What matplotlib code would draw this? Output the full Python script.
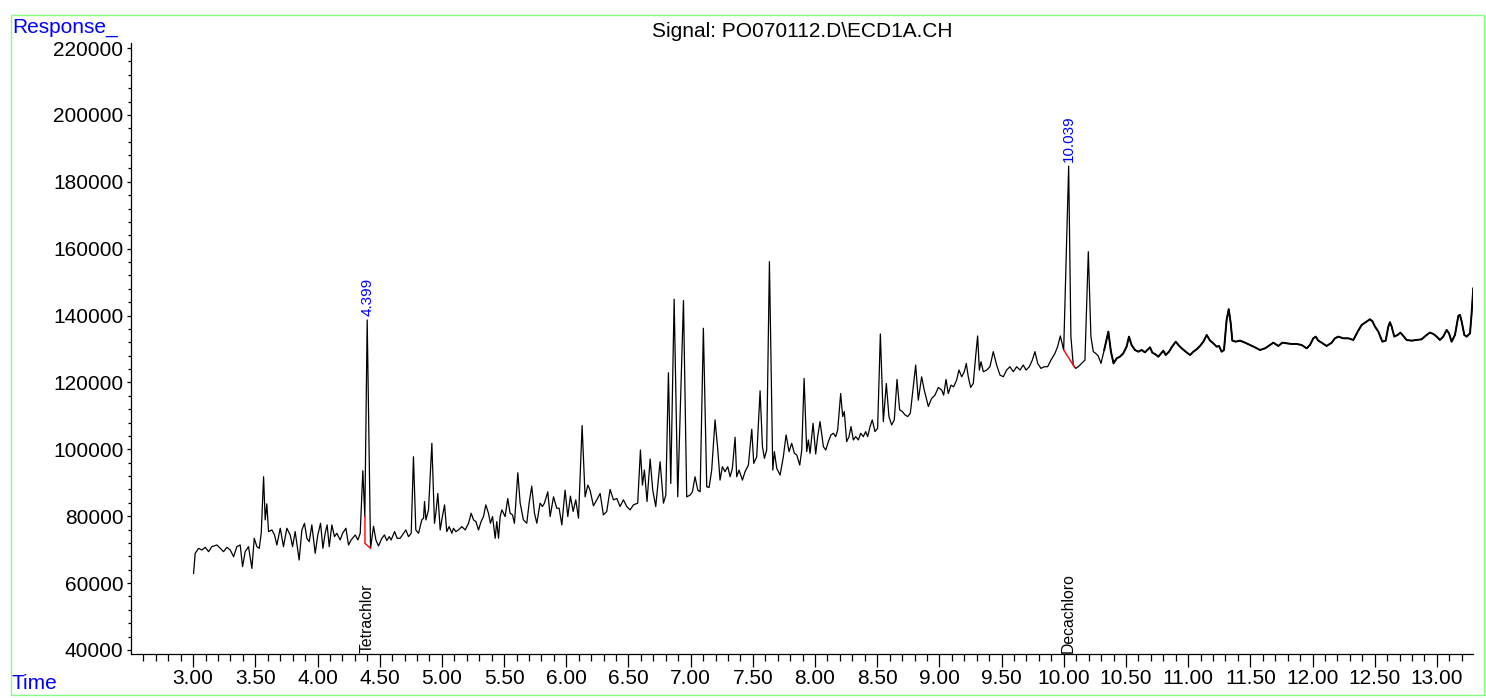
import matplotlib
matplotlib.use('Agg')
import matplotlib.pyplot as plt
from matplotlib.patches import Rectangle
from matplotlib.ticker import FixedLocator
import matplotlib.transforms as mtransforms

plt.rcParams['font.family'] = ['Liberation Sans', 'DejaVu Sans']

# ---------------- data ----------------
time_min = [
    3.003, 3.016, 3.043, 3.070, 3.097, 3.124, 3.150, 3.191, 3.217, 3.244,
    3.271, 3.298, 3.325, 3.351, 3.378, 3.397, 3.418, 3.445, 3.472, 3.491,
    3.512, 3.531, 3.547, 3.566, 3.579, 3.592, 3.606, 3.633, 3.654, 3.673,
    3.700, 3.726, 3.753, 3.780, 3.799, 3.820, 3.852, 3.874, 3.895, 3.914,
    3.933, 3.954, 3.981, 4.002, 4.024, 4.043, 4.061, 4.077, 4.094, 4.115,
    4.136, 4.155, 4.182, 4.201, 4.228, 4.249, 4.270, 4.303, 4.324, 4.343,
    4.364, 4.380, 4.399, 4.426, 4.450, 4.469, 4.490, 4.517, 4.538, 4.557,
    4.576, 4.592, 4.619, 4.640, 4.664, 4.691, 4.710, 4.731, 4.753, 4.771,
    4.790, 4.812, 4.838, 4.852, 4.860, 4.871, 4.892, 4.919, 4.940, 4.951,
    4.967, 4.986, 4.999, 5.021, 5.039, 5.058, 5.080, 5.093, 5.112, 5.133,
    5.160, 5.187, 5.214, 5.235, 5.254, 5.273, 5.294, 5.315, 5.334, 5.353,
    5.374, 5.390, 5.407, 5.428, 5.441, 5.455, 5.468, 5.482,
    5.508, 5.529, 5.548, 5.567, 5.583, 5.610, 5.629, 5.655, 5.682, 5.701,
    5.722, 5.744, 5.763, 5.789, 5.808, 5.824, 5.851, 5.870, 5.897, 5.923,
    5.942, 5.964, 5.990, 6.012, 6.033, 6.055, 6.076, 6.098, 6.127, 6.151,
    6.173, 6.191, 6.218, 6.245, 6.272, 6.298, 6.325, 6.352, 6.379, 6.406,
    6.432, 6.459, 6.486, 6.513, 6.540, 6.574, 6.596, 6.612, 6.628, 6.649,
    6.674, 6.695, 6.719, 6.754, 6.781, 6.800, 6.821, 6.840, 6.867, 6.896,
    6.942, 6.968, 6.995, 7.014, 7.035, 7.057, 7.076, 7.102, 7.129, 7.148,
    7.169, 7.196, 7.218, 7.236, 7.255, 7.276, 7.298, 7.317, 7.335, 7.357,
    7.370, 7.389, 7.416, 7.437, 7.464, 7.491, 7.507, 7.531, 7.558, 7.577,
    7.593, 7.611, 7.633, 7.660, 7.673, 7.692, 7.719, 7.745, 7.767, 7.791,
    7.812, 7.834, 7.853, 7.877, 7.893, 7.912, 7.933, 7.946, 7.960, 7.984,
    8.005, 8.021, 8.040, 8.067, 8.086,
    8.107, 8.128, 8.147, 8.166, 8.182, 8.206, 8.222, 8.235, 8.254, 8.273,
    8.289, 8.308, 8.327, 8.348, 8.367, 8.388, 8.407, 8.423, 8.442, 8.460,
    8.482, 8.503, 8.525, 8.549, 8.573, 8.594, 8.616, 8.637, 8.659, 8.680,
    8.702, 8.723, 8.745, 8.766, 8.787, 8.809, 8.830, 8.857, 8.878, 8.911,
    8.937, 8.964, 8.991, 9.018, 9.034, 9.053, 9.071, 9.093, 9.114, 9.138,
    9.157, 9.179, 9.200, 9.216, 9.232, 9.251, 9.272, 9.291, 9.307, 9.321,
    9.334, 9.353, 9.380, 9.406, 9.433, 9.460, 9.487, 9.514, 9.540, 9.567,
    9.594, 9.621, 9.648, 9.674, 9.696, 9.723, 9.747, 9.768, 9.790, 9.816,
    9.843, 9.870, 9.897, 9.929, 9.950, 9.972, 9.999, 10.039, 10.057, 10.076,
    10.095, 10.116, 10.143, 10.170, 10.197, 10.218, 10.237, 10.256, 10.277, 10.299,
    10.325, 10.358, 10.379, 10.400, 10.425, 10.451, 10.478, 10.505, 10.524, 10.545,
    10.572, 10.599, 10.626, 10.652, 10.685,
    10.693, 10.712, 10.733, 10.760, 10.787, 10.800, 10.819, 10.846, 10.867, 10.900,
    10.921, 10.948, 10.980, 11.015, 11.042, 11.068, 11.095, 11.122, 11.149, 11.176,
    11.202, 11.229, 11.248, 11.269, 11.288, 11.309, 11.326, 11.342, 11.355, 11.382,
    11.417, 11.457, 11.497, 11.537, 11.577, 11.618, 11.658, 11.685, 11.725, 11.757,
    11.792, 11.832, 11.872, 11.912, 11.953, 11.979, 12.006, 12.025, 12.046, 12.073,
    12.113, 12.154, 12.180, 12.207, 12.247, 12.288, 12.328, 12.363, 12.395, 12.435,
    12.462, 12.483, 12.502, 12.529, 12.561, 12.588, 12.609, 12.622, 12.636, 12.657,
    12.684, 12.706, 12.730, 12.756, 12.797, 12.837, 12.877, 12.917, 12.944, 12.971,
    12.998, 13.024, 13.051, 13.078, 13.097, 13.118, 13.145, 13.172, 13.185, 13.199,
    13.220, 13.239, 13.266, 13.279, 13.292,
]

response = [
    62900, 68900, 70400, 69900, 70700, 69400, 70900, 71400, 70400, 69400,
    70700, 69900, 67900, 70900, 71400, 64900, 69400, 70900, 64400, 73400,
    70900, 70400, 74900, 91800, 78900, 83700, 75400, 75900, 74400, 71400,
    76400, 70900, 76400, 74400, 70900, 75400, 66900, 75900, 77900, 73400,
    72400, 77400, 68900, 74400, 77900, 70400, 74900, 77400, 70900, 77400,
    73900, 74900, 72900, 74900, 76400, 71400, 72900, 74400, 72900, 74900,
    93600, 79900, 138700, 70400, 77000, 72900, 71100, 73400, 74400, 72700,
    73900, 72900, 75400, 73400, 73400, 74900, 75900, 73900, 74900, 97800,
    75900, 74900, 78900, 79400, 84400, 78900, 81900, 101800, 77900, 80900,
    86800, 75900, 78900, 83400, 75400, 76900, 74900, 76400, 75400, 75900,
    76900, 75900, 77900, 80900, 78900, 78400, 75900, 78400, 79900, 83400,
    80900, 77900, 79900, 73400, 78400, 73400, 79900, 81900,
    79900, 85300, 80900, 80400, 77900, 93000, 83900, 78900, 77900, 83900,
    89000, 80900, 77900, 83900, 82900, 83900, 87300, 79900, 85800, 82400,
    82400, 77400, 87800, 79900, 86000, 81400, 84900, 79400, 107100, 85800,
    89300, 87800, 83100, 84900, 86800, 80400, 81400, 88000, 84900, 85300,
    82900, 84900, 82900, 81900, 83400, 83900, 99800, 89300, 93800, 84400,
    97100, 87800, 82900, 96300, 83900, 86300, 122900, 89800, 144900, 85800,
    144500, 85800, 86300, 87300, 91800, 87800, 87300, 136200, 88800, 88600,
    93800, 108800, 99800, 90800, 94800, 93300, 94800, 91800, 94300, 103600,
    91800, 93800, 90800, 93300, 95300, 106000, 95800, 97800, 117500, 100800,
    97300, 99800, 156100, 93800, 99300, 94300, 92300, 97800, 104300, 99300,
    101800, 98800, 98300, 95300, 99800, 121200, 99300, 102800, 98800, 107800,
    98600, 103800, 108300, 100800, 99800,
    102300, 104300, 104800, 103800, 105800, 116700, 109800, 111300, 102300, 103800,
    106800, 102800, 103800, 102800, 104800, 103800, 105300, 103800, 106800, 108800,
    105300, 106300, 134500, 108300, 119700, 109800, 107300, 108800, 120900, 111800,
    111300, 110300, 109800, 110800, 117700, 125200, 114700, 121700, 117700, 112800,
    115200, 116200, 118500, 117700, 116200, 120900, 116700, 119200, 118700, 120700,
    123700, 121700, 123200, 125700, 121700, 118500, 119700, 127700, 133900, 123700,
    126200, 123200, 123700, 124700, 129200, 125200, 122200, 121700, 123700, 124700,
    123200, 124700, 123700, 125200, 123700, 124700, 126700, 129200, 125700, 124200,
    124700, 124700, 126700, 128700, 130700, 133900, 129700, 184700, 133700, 125200,
    124200, 124700, 125700, 126700, 159100, 133700, 129200, 128700, 127900, 125700,
    129700, 135200, 129200, 125700, 127200, 127700, 128700, 130700, 133700, 131200,
    129700, 129200, 129700, 129000, 130200,
    130500, 128900, 128500, 127700, 128900, 129500, 128200, 129200, 130500, 132200,
    131200, 130200, 129200, 128200, 129200, 129900, 130900, 132200, 134200, 132500,
    131700, 130700, 130900, 129200, 129700, 138700, 141900, 137700, 132500, 132200,
    132500, 131900, 131200, 130500, 129700, 130200, 131200, 131900, 130900, 131900,
    131700, 131500, 131500, 131200, 130200, 131200, 133200, 133700, 132500, 131900,
    130900, 131900, 133200, 133700, 133200, 133200, 132700, 135200, 137200, 138200,
    138900, 138200, 136700, 135200, 132200, 132500, 136700, 138000, 136700, 133700,
    134200, 134900, 133900, 132700, 132500, 132700, 132900, 134200, 134900, 134500,
    133700, 132700, 133700, 135700, 134700, 132200, 134200, 139900, 140200, 138200,
    134200, 133700, 134700, 140700, 148100,
]

# integrated peaks
peak_times = [4.399, 10.039]
peak_heights = [138700, 184700]
peak_labels = ['4.399', '10.039']
compound_names = ['Tetrachlor', 'Decachloro']

# integration baselines (red)
tetra_base_t = [4.381, 4.381, 4.426]
tetra_base_v = [79900, 71900, 70400]
deca_base_t = [9.999, 10.084]
deca_base_v = [129700, 124700]

# axis ticks
x_major = [3.0, 3.5, 4.0, 4.5, 5.0, 5.5, 6.0, 6.5, 7.0, 7.5, 8.0, 8.5,
           9.0, 9.5, 10.0, 10.5, 11.0, 11.5, 12.0, 12.5, 13.0]
x_major_labels = ['3.00', '3.50', '4.00', '4.50', '5.00', '5.50', '6.00',
                  '6.50', '7.00', '7.50', '8.00', '8.50', '9.00', '9.50',
                  '10.00', '10.50', '11.00', '11.50', '12.00', '12.50', '13.00']
x_minor = [2.6 + 0.1 * i for i in range(107)]
y_major = [40000, 60000, 80000, 100000, 120000, 140000, 160000, 180000,
           200000, 220000]
y_major_labels = ['40000', '60000', '80000', '100000', '120000', '140000',
                  '160000', '180000', '200000', '220000']
y_minor = [40000 + 4000 * i for i in range(46)]

title_text = 'Signal: PO070112.D\\ECD1A.CH'

# ---------------- figure ----------------
W, H = 1486, 698
fig = plt.figure(figsize=(W / 100, H / 100), dpi=100)
fig.patch.set_facecolor('white')

ax = fig.add_axes([131 / W, 44 / H, (1473 - 131) / W, (655 - 44) / H])
ax.set_facecolor('none')

ax.plot(time_min, response, color='black', lw=0.9, solid_joinstyle='round')
# the late, noisier part of the trace looks heavier in the original
late_t = [t for t in time_min if t >= 10.3]
late_v = response[len(time_min) - len(late_t):]
ax.plot(late_t, late_v, color='black', lw=1.4, solid_joinstyle='round')
ax.plot(tetra_base_t, tetra_base_v, color='red', lw=1.0)
ax.plot(deca_base_t, deca_base_v, color='red', lw=1.0)

ax.set_xlim(2.5, 13.29)
ax.set_ylim(38800, 221500)

for s in ('top', 'right'):
    ax.spines[s].set_visible(False)
for s in ('left', 'bottom'):
    ax.spines[s].set_linewidth(0.9)

ax.xaxis.set_major_locator(FixedLocator(x_major))
ax.set_xticklabels(x_major_labels)
ax.xaxis.set_minor_locator(FixedLocator(x_minor))
ax.yaxis.set_major_locator(FixedLocator(y_major))
ax.set_yticklabels(y_major_labels)
ax.yaxis.set_minor_locator(FixedLocator(y_minor))

ax.tick_params(axis='x', which='major', direction='out', length=9.2,
               width=0.9, pad=1.5, labelsize=15)
ax.tick_params(axis='x', which='minor', direction='out', length=5,
               width=0.9)
ax.tick_params(axis='y', which='major', direction='out', length=3,
               width=0.9, pad=2.5, labelsize=15)
ax.tick_params(axis='y', which='minor', direction='out', length=2,
               width=0.9)

# peak retention time labels
for t, h, lab in zip(peak_times, peak_heights, peak_labels):
    ax.annotate(lab, xy=(t, h), xytext=(0, 3), textcoords='offset points',
                rotation=90, ha='center', va='bottom', color='#0000ff',
                fontsize=11)

# compound names at bottom
trans = mtransforms.blended_transform_factory(ax.transData, ax.transAxes)
for t, name in zip(peak_times, compound_names):
    ax.text(t, 0.002, name, transform=trans, rotation=90, ha='center',
            va='bottom', color='black', fontsize=11.3)

# titles / axis captions
fig.text(802 / W, 1 - 37 / H, title_text, ha='center', va='baseline',
         fontsize=15, color='black')
fig.text(12 / W, 1 - 33 / H, 'Response_', ha='left', va='baseline',
         fontsize=15, color='#0000ff')
fig.text(12 / W, 1 - 689 / H, 'Time', ha='left', va='baseline',
         fontsize=15, color='#0000ff')

# light green frame
fig.patches.append(Rectangle((10.5 / W, 3 / H), (1484 - 10.5) / W,
                             (683 - 3) / H, transform=fig.transFigure,
                             fill=False, edgecolor='#80ff80', lw=1.0))

fig.savefig('out.png', dpi=100)
